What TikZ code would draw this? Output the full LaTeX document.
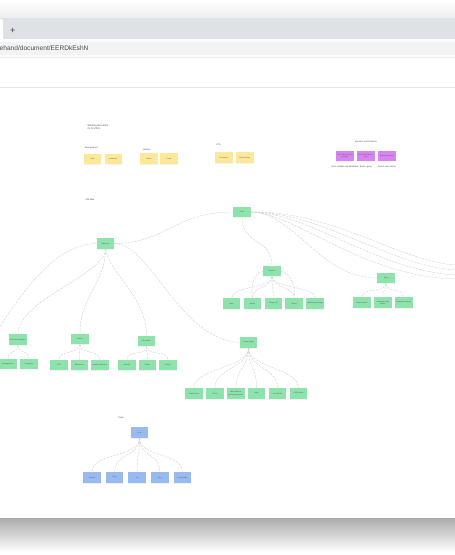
\documentclass[tikz,border=0pt]{standalone}
\usepackage{fontspec}
\setmainfont{Liberation Sans}
\usetikzlibrary{positioning,shadows}

\definecolor{mint}{RGB}{142,226,172}
\definecolor{sticky}{RGB}{252,232,152}
\definecolor{orchid}{RGB}{216,132,240}
\definecolor{sky}{RGB}{152,186,240}
\definecolor{tabbar}{RGB}{222,225,230}
\definecolor{urlfield}{RGB}{241,243,244}

\tikzset{
  note/.style={minimum width=17.5pt, minimum height=10.5pt, inner sep=0pt,
    drop shadow={shadow xshift=0pt, shadow yshift=-1.2pt, opacity=0.10}},
  page/.style={note, fill=mint},
  idea/.style={note, fill=sticky},
  offer/.style={note, fill=orchid},
  task/.style={note, fill=sky},
  caption/.style={font=\fontsize{2.2}{2.6}\selectfont, text=black!70},
  link/.style={draw=black!20, dash pattern=on 2.5pt off 1pt, line width=0.35pt}
}

\begin{document}
\begin{tikzpicture}[x=1pt, y=-1pt, node distance=3pt,
    every node/.style={font=\fontsize{1.8}{2.1}\selectfont, text=black!65}]
    \useasboundingbox (0,0) rectangle (455,555);

    % browser window
    \shade[top color=white, bottom color=black!7] (0,0) rectangle (455,18);
    \fill[tabbar] (0,18) rectangle (455,39);
    \fill[white, rounded corners=2pt] (-5,19) rectangle (3,42);
    \fill[black!1] (0,39) rectangle (455,57);
    \fill[urlfield, rounded corners=3pt] (-6,42) rectangle (461,55);
    \node (plus) [font=\fontsize{9}{10}\selectfont, text=black!75] at (12.7,31) {+};
    \node (url) [anchor=west, inner sep=0pt, font=\fontsize{6.6}{8}\selectfont, text=black!70] at (-0.5,48.5) {ehand/document/EERDkEshN};
    \draw[black!8, line width=0.6pt] (0,57) -- (455,57);
    \draw[black!9, line width=0.6pt] (0,87) -- (455,87);
    \shade[top color=black!33, bottom color=white] (0,518) rectangle (455,552);

    % notes at the top
    \node (title) [caption, anchor=west, align=left, font=\fontsize{2.5}{3.6}\selectfont] at (84,127) {Working document\\01.01.2021};
    \node (wiring) [caption] at (91.5,148) {Wiring Basics};
    \node (y1) [idea] at (92.5,159) {Goal};
    \node (y2) [idea, right=of y1] {Audience};
    \node (ident) [caption] at (146.5,150) {Identity};
    \node (y3) [idea] at (149,158.5) {Colors};
    \node (y4) [idea, right=2pt of y3] {Fonts};
    \node (cta) [caption] at (218.5,145) {CTA};
    \node (y5) [idea] at (224,157.5) {Contact us};
    \node (y6) [idea, right=of y5] {Book a demo};

    \node (offers) [caption] at (366,142) {Services and Features};
    \node (p1) [offer, align=center] at (345,156) {Consulting services\\package};
    \node (p2) [offer, right=of p1, align=center] {Web development\\plan};
    \node (p3) [offer, right=of p2] {Digital marketing};
    \node (p1c) [caption, below=0.8pt of p1] {Fast, reliable and affordable};
    \node (p2c) [caption, below=0.8pt of p2] {Built to grow};
    \node (p3c) [caption, below=0.8pt of p3] {Reach new clients};

    % site map
    \node (sitemap) [caption] at (90,200) {Site Map};
    \node (home) [page] at (242,212) {Home};
    \node (about) [page] at (105.5,243.5) {About us};
    \node (serv) [page] at (272,271) {Services};
    \node (s1) [page] at (231.5,303.5) {Web};
    \node (s2) [page, right=of s1] {Mobile};
    \node (s3) [page, right=of s2] {Design UX};
    \node (s4) [page, right=of s3] {Brand};
    \node (s5) [page, right=of s4] {Marketing strategy};
    \node (blog) [page] at (386,278) {Blog};
    \node (b1) [page] at (362,302.5) {Latest articles};
    \node (b2) [page, right=of b1, align=center] {Categories and\\archive};
    \node (b3) [page, right=of b2] {Newsletter sign up};

    \node (team) [page] at (18,339.5) {Our team members};
    \node (t1) [page] at (8,364) {Management};
    \node (t2) [page, right=of t1] {Designers};
    \node (hist) [page] at (80,339) {History};
    \node (h1) [page] at (59,365) {2010};
    \node (h2) [page, right=2.5pt of h1] {Milestones};
    \node (h3) [page, right=2.5pt of h2] {Awards and press};
    \node (val) [page] at (146.5,341) {Our values};
    \node (v1) [page] at (127,365) {Mission};
    \node (v2) [page, right=2.5pt of v1] {Vision};
    \node (v3) [page, right=2.5pt of v2] {Culture};

    \node (contact) [page] at (248.5,342.5) {Contact page};
    \node (c1) [page] at (194,393.5) {Contact form};
    \node (c2) [page, right=of c1] {Phone};
    \node (c3) [page, right=of c2, align=center] {Office address\\and opening hours};
    \node (c4) [page, right=of c3] {Map};
    \node (c5) [page, right=of c4] {Social links};
    \node (c6) [page, right=of c5] {FAQ section};

    % tasks
    \node (tasks) [caption] at (121,418) {Tasks};
    \node (todo) [task] at (139.5,432.5) {To do};
    \node (k1) [task] at (92,477.5) {Content};
    \node (k2) [task, right=4.7pt of k1] {Copy};
    \node (k3) [task, right=4.7pt of k2] {UI};
    \node (k4) [task, right=4.7pt of k3] {Dev};
    \node (k5) [task, right=4.7pt of k4] {Launch date};

    \coordinate (west) at (-1,328);
    \coordinate (east1) at (456,265);
    \coordinate (east2) at (456,270);
    \coordinate (east3) at (456,275);
    \coordinate (east4) at (456,279);

    % connectors
    \draw[link] (home.west) .. controls (175,212) and (165,243.5) .. (about.east);
    \draw[link] (home.south) .. controls (242,245) and (272,238) .. (serv.north);
    \draw[link] (home.east) .. controls (295,213) and (320,278) .. (blog.west);
    \draw[link] (home.east) .. controls (335,211) and (400,262) .. (east1);
    \draw[link] (home.east) .. controls (322,212) and (390,266) .. (east2);
    \draw[link] (home.east) .. controls (308,212) and (378,271) .. (east3);
    \draw[link] (home.east) .. controls (296,213) and (362,277) .. (east4);
    \draw[link] (about.west) .. controls (60,244) and (30,280) .. (west);
    \draw[link] (about.south) .. controls (105,275) and (18,300) .. (team.north);
    \draw[link] (about.south) .. controls (105,285) and (80,295) .. (hist.north);
    \draw[link] (about.south) .. controls (110,275) and (146,295) .. (val.north);
    \draw[link] (about.east) .. controls (150,243) and (180,340) .. (contact.west);

    \draw[link] (serv.south) .. controls +(0,12) and +(0,-12) .. (s1.north);
    \draw[link] (serv.south) .. controls +(0,12) and +(0,-12) .. (s2.north);
    \draw[link] (serv.south) .. controls +(0,12) and +(0,-12) .. (s3.north);
    \draw[link] (serv.south) .. controls +(0,12) and +(0,-12) .. (s4.north);
    \draw[link] (serv.south) .. controls +(0,12) and +(0,-12) .. (s5.north);
    \draw[link] (serv.west) .. controls +(-10,2) and +(-2,-10) .. (s2.north);
    \draw[link] (serv.east) .. controls +(10,2) and +(2,-10) .. (s4.north);
    \draw[link] (blog.south) .. controls +(0,10) and +(0,-10) .. (b1.north);
    \draw[link] (blog.south) .. controls +(0,10) and +(0,-10) .. (b2.north);
    \draw[link] (blog.south) .. controls +(0,10) and +(0,-10) .. (b3.north);

    \draw[link] (team.south) .. controls +(0,10) and +(0,-10) .. (t1.north);
    \draw[link] (team.south) .. controls +(0,10) and +(0,-10) .. (t2.north);
    \draw[link] (hist.south) .. controls +(0,10) and +(0,-10) .. (h1.north);
    \draw[link] (hist.south) .. controls +(0,10) and +(0,-10) .. (h2.north);
    \draw[link] (hist.south) .. controls +(0,10) and +(0,-10) .. (h3.north);
    \draw[link] (val.south) .. controls +(0,10) and +(0,-10) .. (v1.north);
    \draw[link] (val.south) .. controls +(0,10) and +(0,-10) .. (v2.north);
    \draw[link] (val.south) .. controls +(0,10) and +(0,-10) .. (v3.north);

    \draw[link] (contact.south) .. controls +(0,20) and +(0,-20) .. (c1.north);
    \draw[link] (contact.south) .. controls +(0,20) and +(0,-20) .. (c2.north);
    \draw[link] (contact.south) .. controls +(0,20) and +(0,-20) .. (c3.north);
    \draw[link] (contact.south) .. controls +(0,20) and +(0,-20) .. (c4.north);
    \draw[link] (contact.south) .. controls +(0,20) and +(0,-20) .. (c5.north);
    \draw[link] (contact.south) .. controls +(0,20) and +(0,-20) .. (c6.north);

    \draw[link] (todo.south) .. controls +(0,20) and +(0,-20) .. (k1.north);
    \draw[link] (todo.south) .. controls +(0,20) and +(0,-20) .. (k2.north);
    \draw[link] (todo.south) .. controls +(0,20) and +(0,-20) .. (k3.north);
    \draw[link] (todo.south) .. controls +(0,20) and +(0,-20) .. (k4.north);
    \draw[link] (todo.south) .. controls +(0,20) and +(0,-20) .. (k5.north);
\end{tikzpicture}
\end{document}
